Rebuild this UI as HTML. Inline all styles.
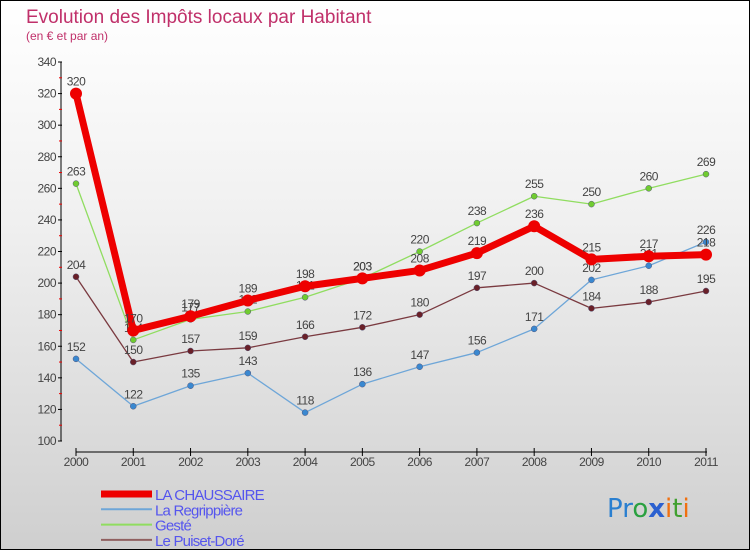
<!DOCTYPE html>
<html><head><meta charset="utf-8"><style>
body{margin:0}
#c{width:748px;height:548px;border:1px solid #000;background:linear-gradient(#fff,#f0f0f0 40%,#cfcfcf);position:relative;font-family:"Liberation Sans",sans-serif}
</style></head><body>
<div id="c">
<svg id="s" width="748" height="548">
<text x="25" y="22" font-size="19" fill="#c0306a">Evolution des Impôts locaux par Habitant</text>
<text x="25" y="39" font-size="12" fill="#c0306a">(en € et par an)</text>
<g id="g"></g>
<text x="606" y="516" font-size="26" font-family="DejaVu Sans"><tspan fill="#2a7fd0">Pr</tspan><tspan fill="#2aa040">o</tspan><tspan fill="#2a60d0" font-weight="bold">x</tspan><tspan fill="#f07010">i</tspan><tspan fill="#40a030">t</tspan><tspan fill="#f07010">i</tspan></text>
</svg>
</div>
<script>
const years=["2000","2001","2002","2003","2004","2005","2006","2007","2008","2009","2010","2011"];
const yTicks=[100,120,140,160,180,200,220,240,260,280,300,320,340];
const chaussaire=[320,170,179,189,198,203,208,219,236,215,217,218];
const regrippiere=[152,122,135,143,118,136,147,156,171,202,211,226];
const geste=[263,164,177,182,191,203,220,238,255,250,260,269];
const puiset=[204,150,157,159,166,172,180,197,200,184,188,195];
const seriesNames=["LA CHAUSSAIRE","La Regrippière","Gesté","Le Puiset-Doré"];
const NS="http://www.w3.org/2000/svg",g=document.getElementById('g');
const X=i=>75+i*(630/11), Y=v=>440-(v-100)*(379/240);
function el(t,a,txt){const e=document.createElementNS(NS,t);for(const k in a)e.setAttribute(k,a[k]);if(txt!=null)e.textContent=txt;g.appendChild(e);return e;}
let e=el('line',{x1:60,y1:61,x2:60,y2:440,stroke:'#000'});

yTicks.forEach(v=>{el('line',{x1:57,x2:61,y1:Y(v),y2:Y(v),stroke:'#000'});
 if(v<340)el('line',{x1:58,x2:61,y1:Y(v+10),y2:Y(v+10),stroke:'#e00'});
 let t=el('text',{x:55,y:Y(v)+4,'font-size':12,fill:'#444','text-anchor':'end','letter-spacing':'-0.5'},v);
 });
e=el('line',{x1:75,y1:451,x2:706,y2:451,stroke:'#000'});

years.forEach((y,i)=>{el('line',{x1:X(i),x2:X(i),y1:447,y2:455,stroke:'#000'});
 let t=el('text',{x:X(i),y:465,'font-size':12,fill:'#444','text-anchor':'middle','letter-spacing':'-0.5'},y);
 });
const defs=[[regrippiere,'#6ea6d8','#3a88d0',1.3,3],[geste,'#90dd60','#70cc30',1.3,3],[puiset,'#7a3a40','#6a2028',1.3,3],[chaussaire,'#ee0000','#ee0000',7,6]];
const names=['regrippiere','geste','puiset-dore','la-chaussaire'];
defs.forEach(([d,c,pc,w,r],k)=>{
 let p=el('polyline',{points:d.map((v,i)=>X(i)+','+Y(v)).join(' '),fill:'none',stroke:c,'stroke-width':w,'stroke-linejoin':'round'});
 
 d.forEach((v,i)=>{let q=el('circle',{cx:X(i),cy:Y(v),r:r,fill:pc,stroke:k==3?'none':'#557',"stroke-width":0.5});
  
  let t=el('text',{x:X(i),y:Y(v)-8,'font-size':12,fill:'#444','text-anchor':'middle','letter-spacing':'-0.5'},v);
  });
});
const lc=['#ee0000','#6ea6d8','#90dd60','#906060'],lw=[7,2,2,2];
seriesNames.forEach((n,i)=>{const y=493+i*15.3;
 el('line',{x1:100,x2:151,y1:y,y2:y,stroke:lc[i],'stroke-width':lw[i]});
 let t=el('text',{x:154,y:y+6,'font-size':15,fill:'#5555ee','letter-spacing':'-0.8'},n);
 });
</script>
</body></html>
